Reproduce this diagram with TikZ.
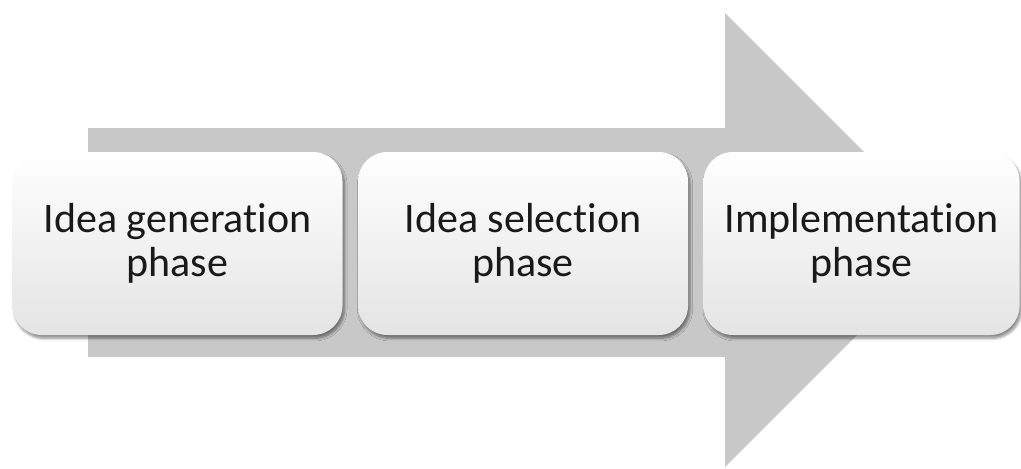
\documentclass[tikz,border=0pt]{standalone}
\usepackage{fontspec}
\setmainfont[Ligatures={NoCommon,NoRare,NoContextual}]{Carlito}
\usepackage{tikz}
\usetikzlibrary{positioning,shadows,shadows.blur}

\definecolor{arrowgray}{RGB}{200,200,200}
\definecolor{boxgray}{RGB}{228,228,228}

\begin{document}
\begin{tikzpicture}[x=0.75pt,y=-0.75pt,node distance=11.25pt]
  \tikzstyle{phase}=[rectangle,rounded corners=22pt,inner sep=0pt,
                     minimum width=247.5pt,minimum height=137.25pt,
                     align=center,text=black!90,
                     font=\fontsize{31.5}{33}\selectfont,
                     top color=white,middle color=white,bottom color=boxgray,
                     blur shadow={shadow xshift=1.5pt,shadow yshift=-2.5pt,
                                  shadow blur steps=6,shadow opacity=45}]

  \useasboundingbox (0,0) rectangle (1021,468);

  % big arrow behind
  \fill[arrowgray] (88,128) -- (725,128) -- (725,13) -- (952,240)
                   -- (725,467) -- (725,357) -- (88,357) -- cycle;

  \node[phase] (gen) at (177.5,243.5) {Idea generation\\phase};
  \node[phase,right=of gen] (sel) {Idea selection\\phase};
  \node[phase,right=of sel,minimum width=237pt] (impl) {Implementation\\phase};

\end{tikzpicture}
\end{document}
